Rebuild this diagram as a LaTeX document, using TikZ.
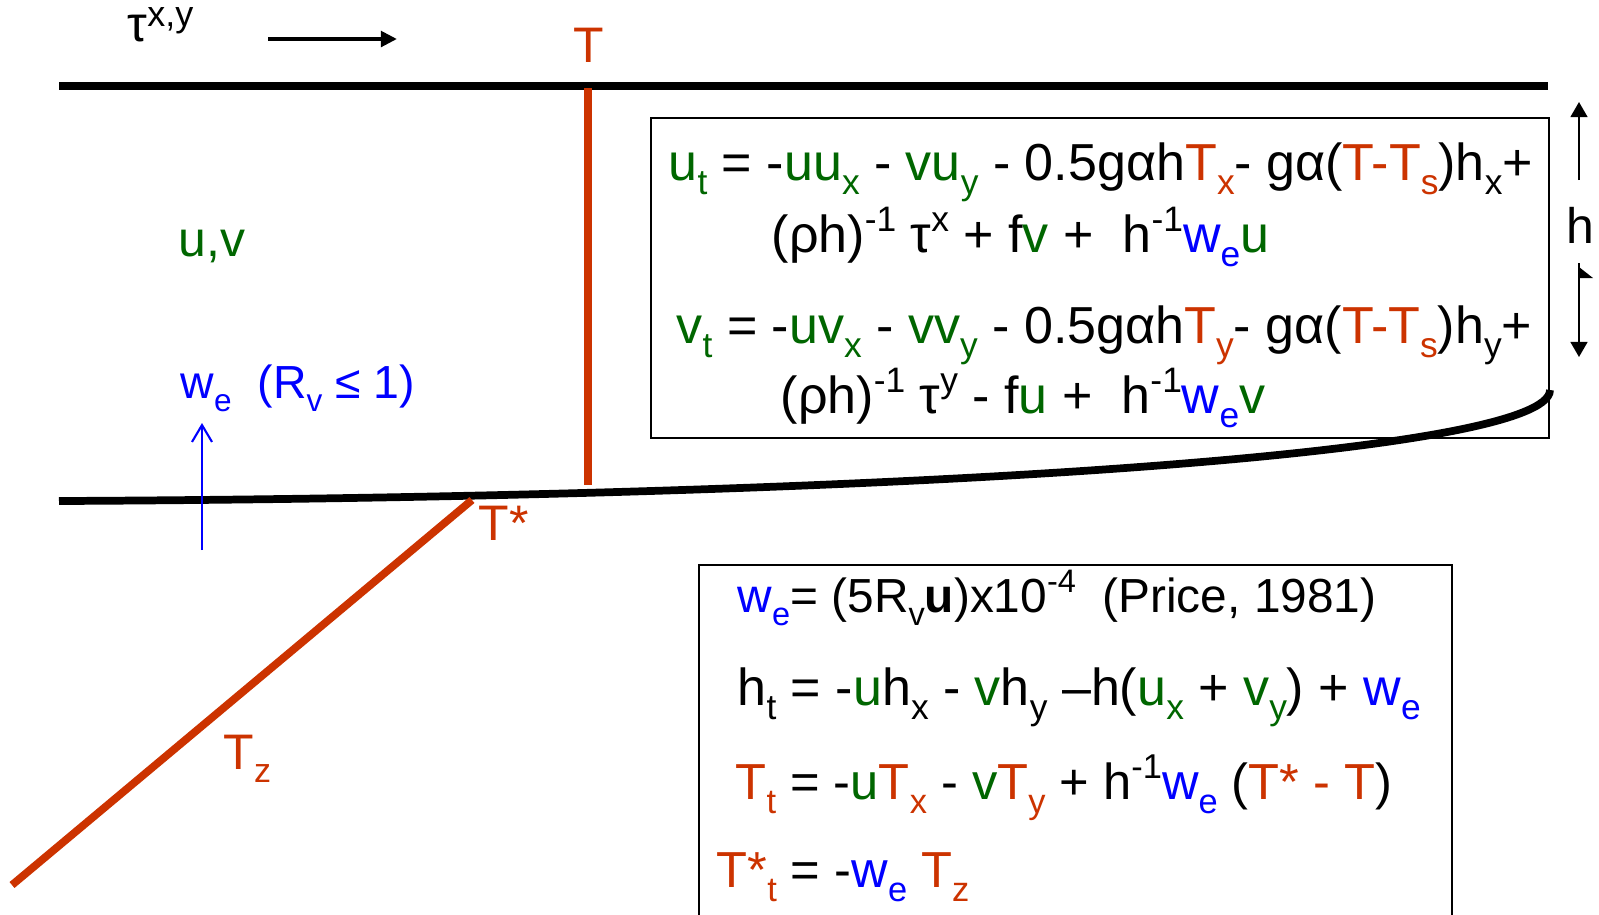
\documentclass[tikz,border=0pt]{standalone}
\usepackage{fontspec}
\setmainfont{Liberation Sans}
\usepackage{graphicx}
\usetikzlibrary{arrows.meta}

\definecolor{mlgreen}{RGB}{0,102,0}
\definecolor{mlred}{RGB}{204,51,0}
\definecolor{mlblue}{RGB}{0,0,255}

\newcommand{\tgreen}[1]{\textcolor{mlgreen}{#1}}
\newcommand{\tred}[1]{\textcolor{mlred}{#1}}
\newcommand{\tblue}[1]{\textcolor{mlblue}{#1}}
\newcommand{\dn}[1]{\raisebox{-0.28em}{\scalebox{0.68}{#1}}}
\newcommand{\up}[1]{\raisebox{0.4em}{\scalebox{0.68}{#1}}}
\newcommand{\eqsize}{\fontsize{14.8}{18}\selectfont}
\newcommand{\lblsize}{\fontsize{14.2}{17}\selectfont}

\tikzset{
    layer/.style={line width=2.2pt},
    eqbox/.style={draw, line width=0.6pt},
    eqtext/.style={anchor=base west, inner sep=0pt, font=\eqsize},
    lbltext/.style={anchor=base west, inner sep=0pt, font=\lblsize},
    harrow/.style={line width=0.6pt, -{Triangle[length=4.3pt,width=4.8pt]}}
}

\begin{document}
\begin{tikzpicture}[x=0.01cm, y=-0.01cm]
    \useasboundingbox (0,0) rectangle (1599,914);

    % sea surface and mixed layer base
    \draw[layer] (59,86) coordinate (surfW) -- (1548,86) coordinate (surfE);
    \draw[layer] (59,501) coordinate (baseW)
        .. controls (900,497) and (1550,455) .. (1550,390) coordinate (baseE);

    % temperature profile
    \draw[layer, mlred] (588,88) coordinate (tTop) -- (588,485) coordinate (tBot);
    \draw[layer, mlred] (472,500) coordinate (tsTop) -- (12,885) coordinate (tsBot);

    \node[lbltext] (tauLbl) at (127,41) {τ\raisebox{0.3em}{\scalebox{0.72}{x,y}}};
    \coordinate (windW) at (268,39);
    \coordinate (windE) at (397,39);
    \draw[line width=1.4pt, -{Triangle[length=4.6pt,width=4.4pt]}] (windW) -- (windE);

    \node[lbltext, mlred] (tLbl) at (573,62) {T};
    \node[lbltext, mlred] (tsLbl) at (478,540) {T*};
    \node[lbltext, mlred] (tzLbl) at (223,769) {T\dn{z}};
    \node[lbltext, mlgreen] (uvLbl) at (178,256) {u,v};
    \node[lbltext, mlblue, font=\fontsize{13.2}{16}\selectfont] (weLbl) at (180,398) {w\dn{e}\ \ (R\dn{v} ≤ 1)};
    \coordinate (weBot) at (202,550);
    \coordinate (weTop) at (202,423);
    \draw[mlblue, line width=0.6pt, -{Straight Barb[length=4.8pt,width=5.7pt]}] (weBot) -- (weTop);

    % layer thickness
    \node[lbltext] (hLbl) at (1566,243) {h};
    \draw[harrow] (1579,180) -- (1579,102);
    \draw[harrow] (1579,263) -- (1579,357);
    \fill (1579,267) -- (1593,278) -- (1579,278) -- cycle;

    % momentum equations
    \draw[eqbox] (651,118) rectangle (1549,438);
    \node[eqtext] (uEq) at (668,180) {\tgreen{u\dn{t}} = -\tgreen{uu\dn{x}} - \tgreen{vu\dn{y}} - 0.5gαh\tred{T\dn{x}}- gα(\tred{T-T\dn{s}})h\dn{x}+};
    \node[eqtext] (uEqB) at (771,252) {(ρh)\up{-1} τ\up{x} + f\tgreen{v} +\ \ h\up{-1}\tblue{w\dn{e}}\tgreen{u}};
    \node[eqtext] (vEq) at (676,343) {\tgreen{v\dn{t}} = -\tgreen{uv\dn{x}} - \tgreen{vv\dn{y}} - 0.5gαh\tred{T\dn{y}}- gα(\tred{T-T\dn{s}})h\dn{y}+};
    \node[eqtext] (vEqB) at (780,413) {(ρh)\up{-1} τ\up{y} - f\tgreen{u} +\ \ h\up{-1}\tblue{w\dn{e}}\tgreen{v}};

    % entrainment, thickness and temperature equations
    \draw[eqbox] (699,920) -- (699,565) -- (1452,565) -- (1452,920);
    \node[eqtext, font=\fontsize{13.6}{16}\selectfont] (weEq) at (737,612) {\tblue{w\dn{e}}= (5R\dn{v}\textbf{u})x10\up{-4}\ \ (Price, 1981)};
    \node[eqtext] (hEq) at (737,705) {h\dn{t} = -\tgreen{u}h\dn{x} - \tgreen{v}h\dn{y} –h(\tgreen{u\dn{x}} + \tgreen{v\dn{y}}) + \tblue{w\dn{e}}};
    \node[eqtext, font=\fontsize{14.4}{17}\selectfont] (tEq) at (735,799) {\tred{T\dn{t}} = -\tgreen{u}\tred{T\dn{x}} - \tgreen{v}\tred{T\dn{y}} + h\up{-1}\tblue{w\dn{e}} (\tred{T* - T})};
    \node[eqtext, font=\fontsize{14.4}{17}\selectfont] (tsEq) at (716,887) {\tred{T*\dn{t}} = -\tblue{w\dn{e}} \tred{T\dn{z}}};
\end{tikzpicture}
\end{document}
